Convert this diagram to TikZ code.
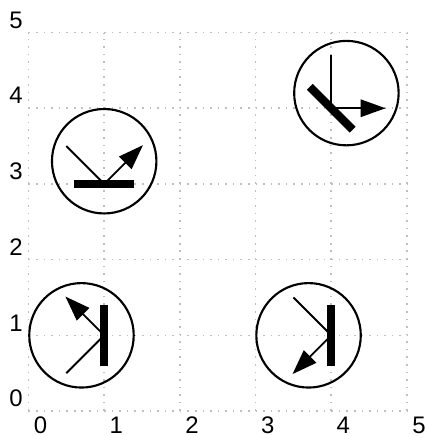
\documentclass[tikz,border=0pt]{standalone}
\usepackage{fontspec}
\setmainfont{Liberation Sans}
\usetikzlibrary{arrows.meta}
\tikzset{
  griddot/.style = {draw=black!25, line width=0.6pt, dash pattern=on 0.6pt off 2.245pt},
  ring/.style    = {circle, draw=black, line width=0.8pt, minimum size=1.38cm, inner sep=0pt},
  mirror/.style  = {fill=black, minimum width=0.8cm, minimum height=0.11cm, inner sep=0pt},
  ray/.style     = {line width=0.7pt},
  ar/.style      = {-{Triangle[length=3.3mm, width=2.3mm]}, line width=0.7pt, shorten >=-0.5pt},
  lbl/.style     = {font=\fontsize{9}{10}\selectfont, inner sep=0pt},
}
\begin{document}
\begin{tikzpicture}
  \useasboundingbox (-0.3765,-0.33) rectangle (5.264,5.43);
  \draw[griddot] (0,0) grid (5,5);
  \foreach \i in {0,...,5} {
    \node[lbl] (xl\i) at (\i+0.16,-0.185) {\i};
    \node[lbl] (yl\i) at (-0.165,\i+0.165) {\i};
  }
  \node[ring] (ca) at (1,3.3) {};
  \node[mirror] (ma) at (1,3) {};
  \coordinate (ia) at (0.5,3.5);
  \coordinate (oa) at (1.5,3.5);
  \draw[ray] (ia)--(ma.center); \draw[ar] (ma.center)--(oa);
  \node[ring] (cb) at (4.2,4.2) {};
  \node[mirror, rotate=-45] (mb) at (4,4) {};
  \coordinate (ib) at (4,4.7);
  \coordinate (ob) at (4.7,4);
  \draw[ray] (ib)--(mb.center); \draw[ar] (mb.center)--(ob);
  \node[ring] (cc) at (0.7,1) {};
  \node[mirror, rotate=90] (mc) at (1,1) {};
  \coordinate (ic) at (0.5,0.5);
  \coordinate (oc) at (0.5,1.5);
  \draw[ray] (ic)--(mc.center); \draw[ar] (mc.center)--(oc);
  \node[ring] (cd) at (3.7,1) {};
  \node[mirror, rotate=90] (md) at (4,1) {};
  \coordinate (id) at (3.5,1.5);
  \coordinate (od) at (3.5,0.5);
  \draw[ray] (id)--(md.center); \draw[ar] (md.center)--(od);
\end{tikzpicture}
\end{document}
